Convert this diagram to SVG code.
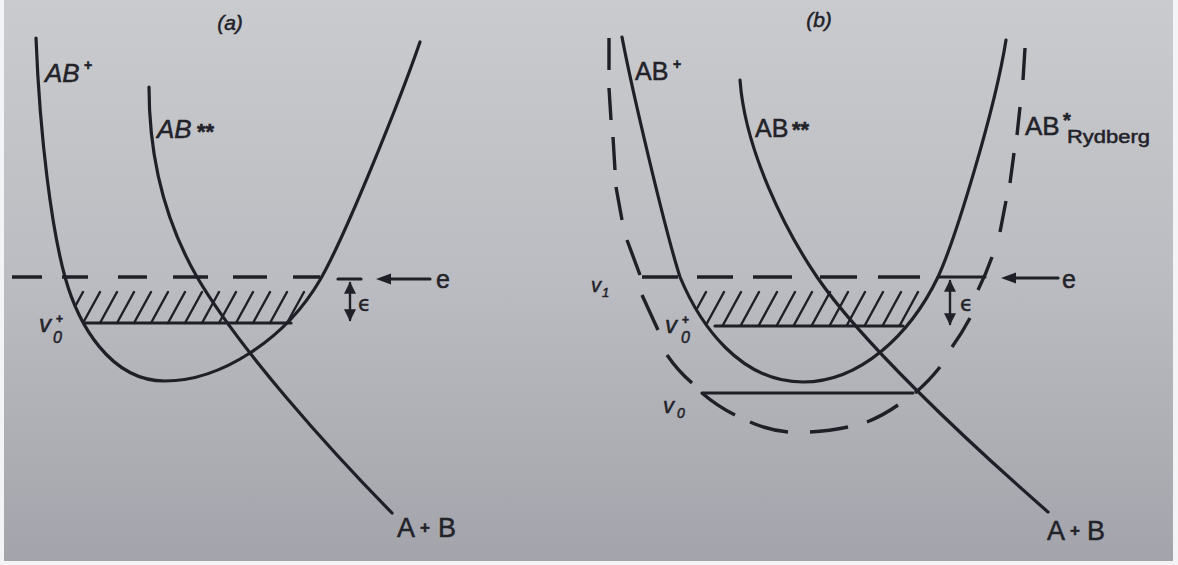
<svg xmlns="http://www.w3.org/2000/svg" width="1178" height="565" viewBox="0 0 1178 565">
<defs>
<linearGradient id="bg" x1="0" y1="0" x2="0" y2="1">
<stop offset="0" stop-color="#cacbce"/>
<stop offset="0.5" stop-color="#bbbcc1"/>
<stop offset="1" stop-color="#a3a4ab"/>
</linearGradient>
<clipPath id="wellA"><path d="M36,38 C40,140 52,230 65,277 C78,324 110,381 165,381 C220,381 285,340 320,280 C345,237 400,100 420,42 Z"/></clipPath>
<clipPath id="wellB"><path d="M622,37 C632,90 665,230 680,277 C700,325 740,382 803,382 C860,382 910,335 938,277 C955,240 995,110 1006,40 Z"/></clipPath>
<marker id="ah" viewBox="0 0 10 10" refX="9" refY="5" markerWidth="5" markerHeight="5" orient="auto-start-reverse" markerUnits="strokeWidth"><path d="M0,0 L10,5 L0,10 Z" fill="#202028"/></marker>
</defs>
<style>
.c{fill:none;stroke:#1f1f27;stroke-width:3.2;stroke-linecap:round;stroke-linejoin:round}
.d{fill:none;stroke:#1f1f27;stroke-width:3.4;stroke-linecap:butt}
.h{fill:none;stroke:#1f1f27;stroke-width:2.4;stroke-linecap:round}
.l{fill:none;stroke:#1f1f27;stroke-width:3.2;stroke-linecap:round}
.t{font-family:"Liberation Sans","Arial",sans-serif;fill:#222229;stroke:#222229;stroke-width:0.5}
.ti{font-family:"Liberation Sans","Arial",sans-serif;font-style:italic;fill:#222229;stroke:#222229;stroke-width:0.5}
.g{font-family:"DejaVu Sans","Liberation Sans",sans-serif;fill:#222229;stroke:#222229;stroke-width:0.4}
.hd{fill:#1f1f27}
</style>
<rect x="0" y="0" width="1178" height="565" fill="url(#bg)"/>
<rect x="0" y="0" width="4" height="565" fill="#f4f4f6"/>
<rect x="1173" y="0" width="5" height="565" fill="#f4f4f6"/>
<rect x="0" y="561" width="1178" height="4" fill="#f4f4f6"/>

<g id="panel-a">
<text class="ti" x="230" y="30" font-size="21" text-anchor="middle">(a)</text>
<g id="a-connectors">
<path id="a-well" class="c" d="M36,38 C40,140 52,230 65,277 C78,324 110,381 165,381 C220,381 285,340 320,280 C345,237 400,100 420,42"/>
<path id="a-abss" class="c" d="M149,87 C149,170 170,230 197,277 C240,350 330,450 392,513"/>
<path id="a-dash" class="d" d="M12,277 H42 M62,277 H88 M118,277 H147 M173,277 H208 M233,277 H267 M293,277 H320"/>
<path id="a-v0" class="l" d="M84,323 H291"/>
<g clip-path="url(#wellA)">
<path class="h" d="M66,323 L83,292 M83,323 L100,292 M100,323 L117,292 M117,323 L134,292 M134,323 L151,292 M151,323 L168,292 M168,323 L185,292 M185,323 L202,292 M202,323 L219,292 M219,323 L236,292 M236,323 L253,292 M253,323 L270,292 M270,323 L287,292 M287,323 L304,292"/>
</g>
<path class="l" d="M338,279 H361"/>
<path class="h" d="M350,283 V320" marker-start="url(#ah)" marker-end="url(#ah)"/>
<path class="l" d="M388,279 H430"/>
<path class="hd" d="M376,279 L391,273.5 L391,284.5 Z"/>
</g>
<g id="a-labels">
<text class="ti" x="45" y="82" font-size="26">AB</text>
<text class="t" x="84" y="70" font-size="14" font-weight="bold">+</text>
<text class="ti" x="157" y="138" font-size="26">AB</text>
<text class="t" x="197" y="139" font-size="22" font-weight="bold">**</text>
<text class="ti" x="39" y="332" font-size="24">v</text>
<text class="t" x="56" y="323" font-size="12" font-weight="bold">+</text>
<text class="ti" x="53" y="343" font-size="16">0</text>
<text class="g" x="358" y="311" font-size="21">ϵ</text>
<text class="t" x="436" y="288" font-size="25">e</text>
<text class="t" x="397" y="537" font-size="27">A</text>
<text class="t" x="420" y="533" font-size="17" font-weight="bold">+</text>
<text class="t" x="438" y="537" font-size="27">B</text>
</g>
</g>

<g id="panel-b">
<text class="ti" x="819" y="27" font-size="21" text-anchor="middle">(b)</text>
<g id="b-connectors">
<path id="b-well" class="c" d="M622,37 C632,90 665,230 680,277 C700,325 740,382 803,382 C860,382 910,335 938,277 C955,240 995,110 1006,40"/>
<path id="b-abss" class="c" d="M740,80 C745,150 785,230 817,277 C860,340 960,435 1048,512"/>
<path id="b-rydberg" class="d" d="M609,38 L609,70 M609,88 L611,120 M613,137 L615,170 M616,187 L622,220 M627,240 L640,275 M642,295 L658,330 M667,355 Q678,371 692,383 M702,393 Q717,406 735,415 M750,422 Q768,430 788,432 M810,432 Q830,431 848,427 M867,422 Q884,415 898,405 M915,393 Q929,381 940,367 M952,347 Q962,333 970,318 M978,290 Q986,274 992,257 M1000,232 L1006,201 M1010,183 L1014,153 M1017,135 L1020,107 M1023,80 L1025,48"/>
<path id="b-v1" class="d" d="M642,277 H678 M697,277 H733 M753,277 H792 M820,277 H857 M878,277 H920"/>
<path class="l" d="M938,277 H985"/>
<path id="b-v0p" class="l" d="M715,326 H903"/>
<path id="b-v0" class="l" d="M702,393 H913"/>
<g clip-path="url(#wellB)">
<path class="h" d="M688,325 L706,292 M706,325 L724,292 M723,325 L741,292 M741,325 L759,292 M759,325 L777,292 M777,325 L795,292 M794,325 L812,292 M812,325 L830,292 M830,325 L848,292 M847,325 L865,292 M865,325 L883,292 M883,325 L901,292 M900,325 L918,292 M918,325 L936,292"/>
</g>
<path class="h" d="M950,281 V324" marker-start="url(#ah)" marker-end="url(#ah)"/>
<path class="l" d="M1014,278 H1058"/>
<path class="hd" d="M1001,278 L1016,272.5 L1016,283.5 Z"/>
</g>
<g id="b-labels">
<text class="t" x="635" y="80" font-size="25">AB</text>
<text class="t" x="673" y="69" font-size="14" font-weight="bold">+</text>
<text class="t" x="755" y="137" font-size="25">AB</text>
<text class="t" x="792" y="137" font-size="22" font-weight="bold">**</text>
<text class="t" x="1025" y="135" font-size="26">AB<tspan x="1063" y="127" font-size="20" font-weight="bold">*</tspan><tspan x="1067" y="143" font-size="18" textLength="83" lengthAdjust="spacingAndGlyphs">Rydberg</tspan></text>
<text class="ti" x="591" y="292" font-size="20">v</text>
<text class="ti" x="602" y="297" font-size="13">1</text>
<text class="ti" x="665" y="333" font-size="24">v</text>
<text class="t" x="682" y="324" font-size="12" font-weight="bold">+</text>
<text class="ti" x="681" y="343" font-size="16">0</text>
<text class="ti" x="663" y="413" font-size="22">v</text>
<text class="ti" x="677" y="418" font-size="14">0</text>
<text class="g" x="960" y="311" font-size="21">ϵ</text>
<text class="t" x="1062" y="288" font-size="25">e</text>
<text class="t" x="1047" y="540" font-size="27">A</text>
<text class="t" x="1070" y="536" font-size="17" font-weight="bold">+</text>
<text class="t" x="1087" y="540" font-size="27">B</text>
</g>
</g>
</svg>
